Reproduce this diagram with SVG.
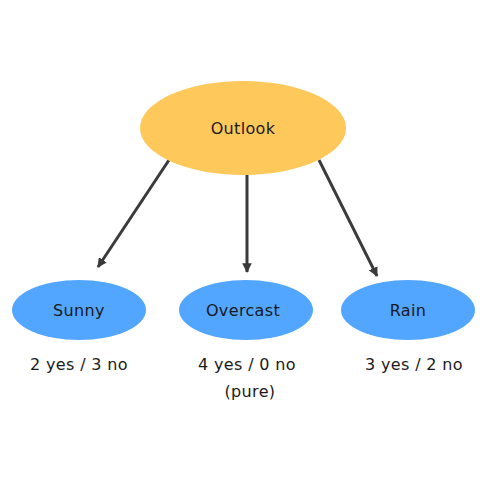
<svg xmlns="http://www.w3.org/2000/svg" width="500" height="500" viewBox="0 0 500 500">
<style>
.lbl{font-family:"DejaVu Sans",sans-serif;font-size:16px;letter-spacing:0.35px;fill:#1a1a1a;text-anchor:middle;dominant-baseline:central}
.root{fill:#FFC85A}
.leaf{fill:#52A6FF}
.edge{stroke:#3a3a3a;stroke-width:3;fill:none;marker-end:url(#arr)}
</style>
<defs>
<marker id="arr" viewBox="0 0 10 10" refX="9" refY="5" markerWidth="3.2" markerHeight="3.2" orient="auto" markerUnits="strokeWidth">
<path d="M0,0 L10,5 L0,10 z" fill="#3a3a3a"/>
</marker>
</defs>
<rect width="500" height="500" fill="#fff"/>
<g id="connectors">
<line class="edge" x1="169" y1="160" x2="98" y2="267"/>
<line class="edge" x1="247" y1="175" x2="247" y2="272"/>
<line class="edge" x1="319" y1="160" x2="377" y2="276"/>
</g>
<g id="outlook">
<ellipse class="root" cx="243" cy="128" rx="103" ry="47"/>
<text class="lbl" x="243" y="128">Outlook</text>
</g>
<g id="sunny">
<ellipse class="leaf" cx="79" cy="310" rx="67" ry="30"/>
<text class="lbl" x="79" y="310">Sunny</text>
<text class="lbl" x="79" y="364">2 yes / 3 no</text>
</g>
<g id="overcast">
<ellipse class="leaf" cx="246" cy="310" rx="67" ry="30"/>
<text class="lbl" x="243" y="310">Overcast</text>
<text class="lbl" x="247" y="364">4 yes / 0 no</text>
<text class="lbl" x="250" y="391">(pure)</text>
</g>
<g id="rain">
<ellipse class="leaf" cx="408" cy="310" rx="67" ry="30"/>
<text class="lbl" x="408" y="310">Rain</text>
<text class="lbl" x="414" y="364">3 yes / 2 no</text>
</g>
</svg>
